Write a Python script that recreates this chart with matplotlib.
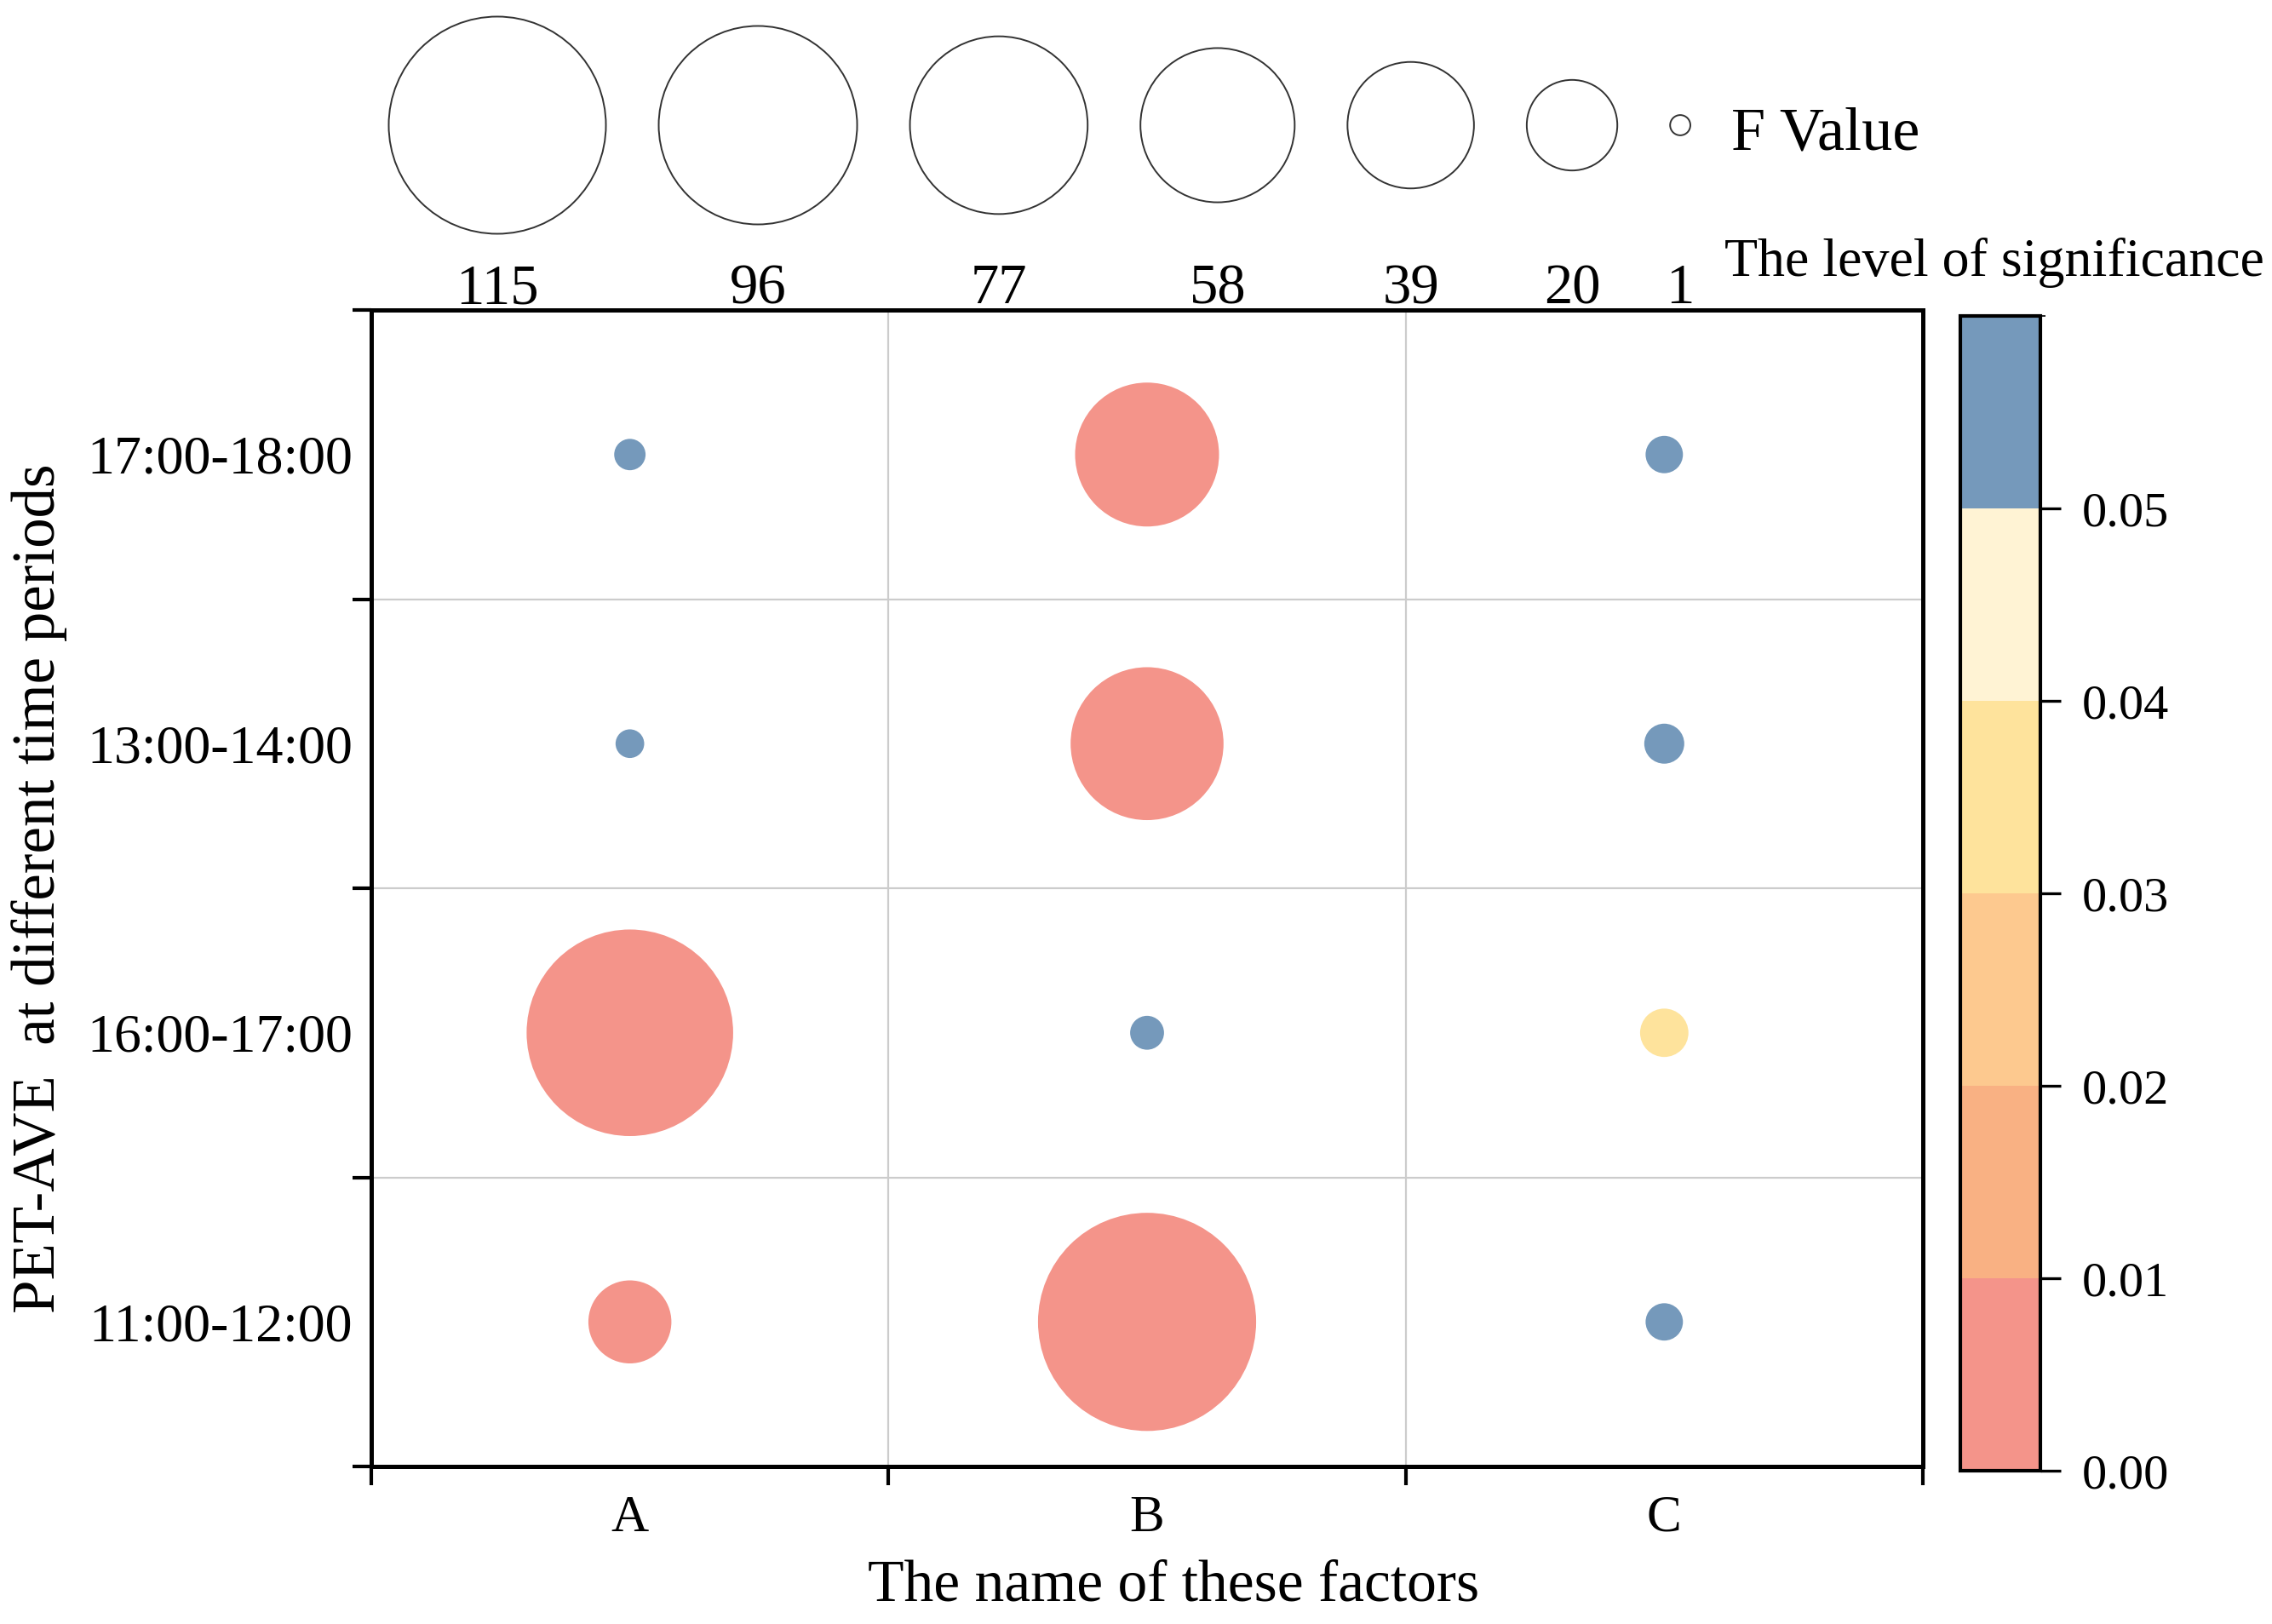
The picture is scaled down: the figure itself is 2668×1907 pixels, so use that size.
import matplotlib

matplotlib.use("Agg")
import matplotlib.pyplot as plt
import numpy as np
from matplotlib.cm import ScalarMappable
from matplotlib.colors import BoundaryNorm, ListedColormap


FIG_DPI = 200
FIG_W_PX = 2668
FIG_H_PX = 1907

# points^2 of marker area per unit of F value
SIZE_PER_F = 73.3

factors = ["A", "B", "C"]
periods = ["11:00-12:00", "16:00-17:00", "13:00-14:00", "17:00-18:00"]

# F values per factor, listed bottom row to top row (same order as periods)
f_values_a = [16.8, 104.0, 2.0, 2.4]
f_values_b = [116.0, 2.8, 57.0, 50.5]
f_values_c = [3.4, 5.7, 3.9, 3.4]

# significance (p) per factor, same order
p_values_a = [0.002, 0.001, 0.45, 0.38]
p_values_b = [0.000, 0.41, 0.001, 0.001]
p_values_c = [0.36, 0.035, 0.29, 0.33]

legend_f_values = [115, 96, 77, 58, 39, 20, 1]

significance_bounds = [0.00, 0.01, 0.02, 0.03, 0.04, 0.05, 0.06]
significance_ticks = [0.00, 0.01, 0.02, 0.03, 0.04, 0.05]
significance_colors = ["#F4948A", "#F9B183", "#FDC98F", "#FEE39C", "#FFF3D4", "#7599BB"]


def marker_diameter_px(f_value):
    return np.sqrt(f_value * SIZE_PER_F) * FIG_DPI / 72.0


def main():
    plt.rcParams["font.family"] = ["Liberation Serif", "DejaVu Serif"]

    fig = plt.figure(figsize=(FIG_W_PX / FIG_DPI, FIG_H_PX / FIG_DPI), dpi=FIG_DPI)

    cmap = ListedColormap(significance_colors)
    norm = BoundaryNorm(significance_bounds, cmap.N, clip=True)

    ax = fig.add_axes([436 / FIG_W_PX, 1 - 1722 / FIG_H_PX,
                       (2258 - 436) / FIG_W_PX, (1722 - 364) / FIG_H_PX])

    f_grid = [f_values_a, f_values_b, f_values_c]
    p_grid = [p_values_a, p_values_b, p_values_c]
    xs, ys, sizes, colors = [], [], [], []
    for col, (f_col, p_col) in enumerate(zip(f_grid, p_grid)):
        for row, (f_val, p_val) in enumerate(zip(f_col, p_col)):
            xs.append(col)
            ys.append(row)
            sizes.append(f_val * SIZE_PER_F)
            colors.append(p_val)

    ax.scatter(xs, ys, s=sizes, c=colors, cmap=cmap, norm=norm,
               edgecolors="none", zorder=3)

    ax.set_xlim(-0.5, len(factors) - 0.5)
    ax.set_ylim(-0.5, len(periods) - 0.5)

    ax.set_xticks(np.arange(len(factors) + 1) - 0.5, labels=[""] * (len(factors) + 1))
    ax.set_yticks(np.arange(len(periods) + 1) - 0.5, labels=[""] * (len(periods) + 1))
    ax.set_xticks(np.arange(len(factors)), labels=factors, minor=True)
    ax.set_yticks(np.arange(len(periods)), labels=periods, minor=True)

    ax.tick_params(which="major", length=8, width=1.5, direction="out")
    ax.tick_params(axis="x", which="minor", length=0, pad=12, labelsize=22)
    ax.tick_params(axis="y", which="minor", length=0, pad=8, labelsize=23)

    ax.grid(True, which="major", color="#CCCCCC", linewidth=0.8)
    ax.set_axisbelow(True)
    for spine in ax.spines.values():
        spine.set_linewidth(1.8)
        spine.set_color("black")

    ax.set_xlabel("The name of these factors", fontsize=25)
    ax.xaxis.label.set_va("center")
    ax.xaxis.set_label_coords(0.517, -0.104)
    ax.set_ylabel("PET-AVE  at different time periods", fontsize=25.5)
    ax.yaxis.label.set_va("center")
    ax.yaxis.set_label_coords(-0.214, 0.5)

    # colorbar for significance level
    cax = fig.add_axes([2302 / FIG_W_PX, 1 - 1727 / FIG_H_PX,
                        (2396 - 2302) / FIG_W_PX, (1727 - 371) / FIG_H_PX])
    cbar = fig.colorbar(ScalarMappable(norm=norm, cmap=cmap), cax=cax,
                        ticks=significance_ticks)
    cbar.ax.set_yticklabels([f"{t:.2f}" for t in significance_ticks])
    cbar.outline.set_linewidth(1.5)
    cax.tick_params(length=8.5, width=1.2, pad=9, labelsize=21)

    # F value size legend, drawn in pixel space over the whole figure
    lax = fig.add_axes([0, 0, 1, 1])
    lax.set_xlim(0, FIG_W_PX)
    lax.set_ylim(FIG_H_PX, 0)
    lax.axis("off")

    gap_px = 62
    centers = []
    x = 584
    prev_d = None
    for f_val in legend_f_values:
        d = marker_diameter_px(f_val)
        if prev_d is not None:
            x += prev_d / 2 + gap_px + d / 2
        centers.append(x)
        prev_d = d

    lax.scatter(centers, [147] * len(centers),
                s=[f * SIZE_PER_F for f in legend_f_values],
                facecolors="none", edgecolors="#333333", linewidths=0.7)
    for cx, f_val in zip(centers, legend_f_values):
        lax.text(cx, 340, str(f_val), ha="center", va="center", fontsize=24)

    lax.text(2033, 158, "F Value", ha="left", va="center", fontsize=26)
    lax.text(2025, 309, "The level of significance", ha="left", va="center", fontsize=23)

    fig.savefig("out.png", dpi=FIG_DPI)
    plt.close(fig)


if __name__ == "__main__":
    main()
